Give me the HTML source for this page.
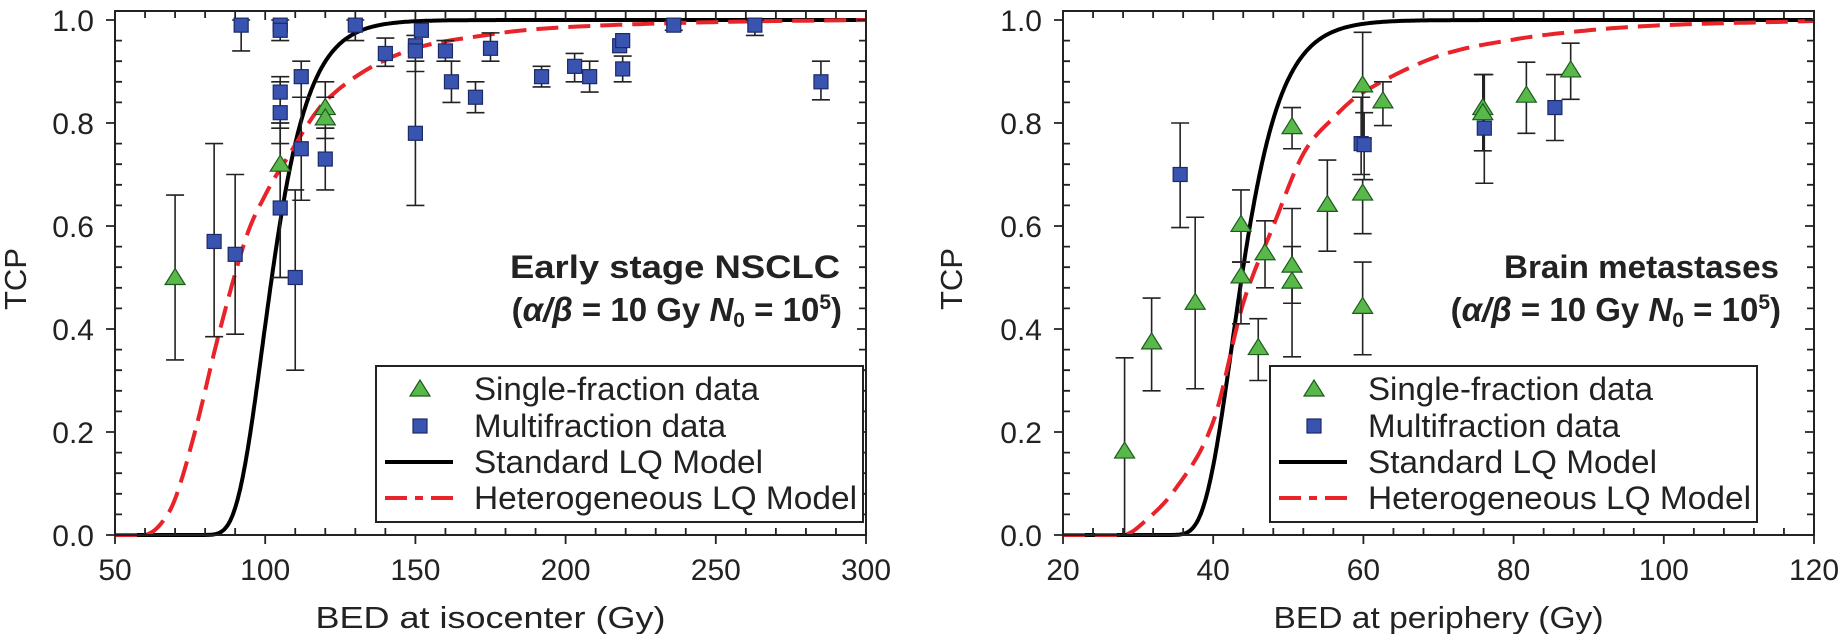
<!DOCTYPE html>
<html><head><meta charset="utf-8"><style>
html,body{margin:0;padding:0;background:#fff;}
svg{display:block;}
text{font-family:"Liberation Sans",Arial,sans-serif;fill:#222;}
</style></head><body>
<svg id="s" width="1841" height="634" xmlns="http://www.w3.org/2000/svg"></svg>
<script>
const S=document.getElementById('s');let h='';
function P(cfg){
 const {x0,x1,d0,d1}=cfg;const y0=535,yTop=11,yU=515;
 const X=d=>x0+(d-d0)*(x1-x0)/(d1-d0);const Y=t=>y0-t*yU;
 let pb='',pr='';
 for(let d=d0;d<=d1;d+=(d1-d0)/600){pb+=(pb?'L':'M')+X(d).toFixed(1)+','+Y(cfg.blk(d)).toFixed(1);}
 const R=cfg.red;let pts=[];
 for(let i=0;i<R.length-1;i++){const [a,ya]=R[i],[b,yb]=R[i+1];
  const m0=i>0?(yb-R[i-1][1])/(b-R[i-1][0]):(yb-ya)/(b-a);
  const m1=i<R.length-2?(R[i+2][1]-ya)/(R[i+2][0]-a):(yb-ya)/(b-a);
  for(let k=0;k<20;k++){const t=k/20,hh=b-a;
   const v=(2*t*t*t-3*t*t+1)*ya+(t*t*t-2*t*t+t)*hh*m0+(-2*t*t*t+3*t*t)*yb+(t*t*t-t*t)*hh*m1;
   pts.push([a+t*hh,Math.max(0,Math.min(1,v))]);}}
 pts.push(R[R.length-1]);
 pr=pts.map((p,i)=>(i?'L':'M')+X(p[0]).toFixed(1)+','+Y(p[1]).toFixed(1)).join('');
 let eb='',mk='';
 const all=[...cfg.sq.map(p=>['s',...p]),...cfg.tri.map(p=>['t',...p])];
 for(const [k,d,t,lo,hi] of all){ if(lo!==undefined){const x=X(d);
   eb+=`<path d="M${x},${Y(lo)}V${Y(hi)}M${x-9},${Y(lo)}h18M${x-9},${Y(hi)}h18" stroke="#222" stroke-width="1.6" fill="none"/>`;}}
 for(const [k,d,t] of all){const x=X(d),y=Y(t);
  if(k=='s')mk+=`<rect x="${x-7}" y="${y-7}" width="14" height="14" fill="#3953b0" stroke="#1d2a66" stroke-width="1.2"/>`;
  else mk+=`<path d="M${x},${y-9}L${x+10},${y+7}L${x-10},${y+7}Z" fill="#58b84a" stroke="#1e5a1e" stroke-width="1.2"/>`;}
 h+=`<path d="${pb}" stroke="#000" stroke-width="4" fill="none"/>`;
 h+=`<path d="${pr}" stroke="#e8232a" stroke-width="4" fill="none" stroke-dasharray="22,10"/>`;
 h+=eb+mk;
 h+=`<rect x="${x0}" y="${yTop}" width="${x1-x0}" height="${y0-yTop}" fill="none" stroke="#222" stroke-width="2"/>`;
 let tk='';
 for(let i=0;i<=25;i++){const t=i*0.04,y=Y(t),maj=i%5==0;
  tk+=`M${x0-(maj?9:0)},${y}h${maj?9:7}M${x1},${y}h-${maj?9:7}`;
  if(maj)h+=`<text x="${x0-21}" y="${y+11}" font-size="30" text-anchor="end">${t.toFixed(1)}</text>`;}
 for(let d=d0;d<=d1+1e-9;d+=cfg.minor){const x=X(d),maj=Math.abs(((d-d0)/cfg.major)-Math.round((d-d0)/cfg.major))<1e-6;
  tk+=`M${x},${y0+(maj?9:0)}V${y0-(maj?0:7)}M${x},${yTop}v${maj?9:7}`;
  if(maj)h+=`<text x="${x}" y="${580}" font-size="30" text-anchor="middle">${Math.round(d)}</text>`;}
 h+=`<path d="${tk}" stroke="#222" stroke-width="1.8"/>`;
 h+=`<text x="${(x0+x1)/2}" y="628" font-size="31" text-anchor="middle" textLength="${cfg.xlw}" lengthAdjust="spacingAndGlyphs">${cfg.xl}</text>`;
 h+=`<text transform="translate(${cfg.tcpx},279) rotate(-90)" font-size="31" text-anchor="middle">TCP</text>`;
 const ax=cfg.annX;
 h+=`<text x="${ax-cfg.a1}" y="278" font-size="32" font-weight="bold" textLength="${cfg.a1}" lengthAdjust="spacingAndGlyphs">${cfg.ann}</text>`;
 h+=`<text x="${ax+2}" y="321" font-size="33" font-weight="bold" text-anchor="end">(<tspan font-style="italic">α/β</tspan> = 10 Gy <tspan font-style="italic">N</tspan><tspan font-size="21" dy="6">0</tspan><tspan dy="-6"> = 10</tspan><tspan font-size="21" dy="-12">5</tspan><tspan dy="12">)</tspan></text>`;
 const L=cfg.lg;
 h+=`<rect x="${L}" y="366" width="487" height="156" fill="#fff" stroke="#222" stroke-width="2"/>`;
 const mx=L+44,tx=L+98;
 h+=`<path d="M${mx},${380}L${mx+10},${396}L${mx-10},${396}Z" fill="#58b84a" stroke="#1e5a1e" stroke-width="1.2"/>`;
 h+=`<rect x="${mx-7}" y="${419}" width="14" height="14" fill="#3953b0" stroke="#1d2a66" stroke-width="1.2"/>`;
 h+=`<path d="M${L+9},462h68" stroke="#000" stroke-width="4"/>`;
 h+=`<path d="M${L+9},498h68" stroke="#e8232a" stroke-width="4" stroke-dasharray="22,8,8,8"/>`;
 const lt=[['Single-fraction data',285,400],['Multifraction data',252,437],['Standard LQ Model',289,473],['Heterogeneous LQ Model',383,509]];
 for(const [s,w,y] of lt)h+=`<text x="${tx}" y="${y}" font-size="32" textLength="${w}" lengthAdjust="spacingAndGlyphs">${s}</text>`;
}
P({x0:115,x1:866,d0:50,d1:300,major:50,minor:10,xl:'BED at isocenter (Gy)',xlw:350,tcpx:26,annX:840,ann:'Early stage NSCLC',a1:330,lg:376,
 blk:d=>Math.exp(-0.693*Math.exp(-0.1185*(d-102.2))),
 red:[[50,0],[60,0],[65,0.02],[70,0.07],[76.6,0.2],[85,0.4],[93.8,0.58],[100,0.66],[106,0.72],[120.5,0.845],[145,0.935],[175,0.972],[200,0.986],[250,0.996],[300,1.0]],
 tri:[[70,0.50,0.34,0.66],[105,0.72,0.5,0.8],[120,0.83,0.79,0.88],[120,0.81,0.77,0.85]],
 sq:[[83,0.57,0.385,0.76],[90,0.545,0.39,0.70],[92,0.99,0.94,1.0],[105,0.99],[105,0.98,0.96,1.0],[105,0.86,0.79,0.89],[105,0.82,0.76,0.88],[105,0.635,0.5,0.8],[110,0.50,0.32,0.67],[112,0.89,0.85,0.92],[112,0.75,0.65,0.85],[120,0.73,0.67,0.79],[130,0.99,0.96,1.0],[140,0.935,0.91,0.965],[150,0.95],[150,0.94,0.9,0.97],[150,0.78,0.64,0.92],[152,0.98],[160,0.94,0.92,0.96],[162,0.88,0.84,0.92],[170,0.85,0.82,0.88],[175,0.945,0.92,0.975],[192,0.89,0.87,0.91],[203,0.91,0.88,0.935],[208,0.89,0.86,0.92],[218,0.95],[219,0.96],[219,0.905,0.88,0.93],[236,0.99,0.98,1.0],[263,0.99,0.97,1.0],[285,0.88,0.845,0.92]]});
P({x0:1063,x1:1814,d0:20,d1:120,major:20,minor:4,xl:'BED at periphery (Gy)',xlw:330,tcpx:962,annX:1779,ann:'Brain metastases',a1:275,lg:1270,
 blk:d=>Math.exp(-0.693*Math.exp(-0.28*(d-43.8))),
 red:[[20,0],[28,0],[30,0.015],[35,0.09],[40,0.22],[44,0.45],[48,0.6],[52,0.74],[56,0.81],[60,0.86],[70,0.93],[80,0.962],[90,0.98],[100,0.99],[120,0.998]],
 tri:[[28.2,0.163,0,0.344],[31.8,0.375,0.28,0.46],[37.6,0.452,0.284,0.617],[43.7,0.603,0.53,0.67],[43.7,0.503,0.41,0.53],[46,0.364,0.30,0.42],[46.9,0.548,0.48,0.61],[50.5,0.793,0.75,0.83],[50.5,0.524,0.45,0.56],[50.5,0.493,0.346,0.634],[55.2,0.642,0.551,0.728],[59.9,0.874,0.77,0.976],[59.9,0.664,0.585,0.69],[59.9,0.444,0.35,0.53],[62.6,0.843,0.795,0.88],[75.9,0.83,0.746,0.894],[75.9,0.82],[81.7,0.854,0.78,0.918],[87.6,0.903,0.846,0.955]],
 sq:[[35.6,0.70,0.597,0.80],[59.7,0.76,0.70,0.85],[60.1,0.758,0.69,0.82],[76.1,0.79,0.683,0.894],[85.5,0.83,0.766,0.894]]});
S.innerHTML=h;
</script>
</body></html>
